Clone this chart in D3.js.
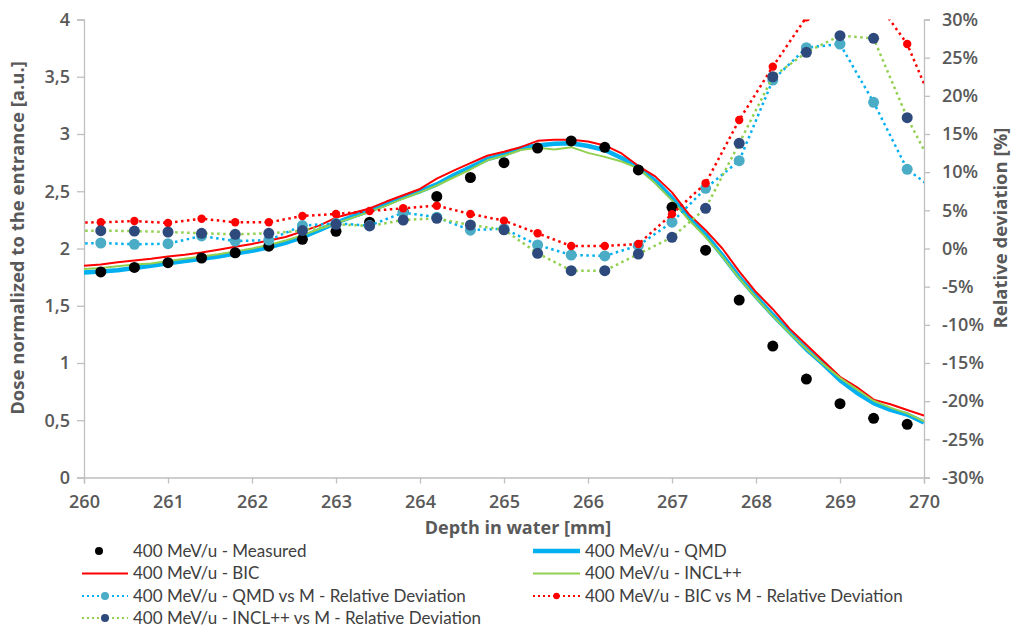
<!DOCTYPE html>
<html>
<head>
<meta charset="utf-8">
<script src="https://cdn.jsdelivr.net/npm/d3@7"></script>
<style>
  body { margin: 0; background: #fff; }
  svg { display: block; }
  .tick-label { font-family: "Open Sans", sans-serif; font-size: 18px; font-weight: 600; fill: #595959; }
  .axis-title { font-family: "Open Sans", sans-serif; font-size: 18.5px; font-weight: 700; fill: #595959; }
  .x-title { font-size: 18px; }
  .legend-text { font-family: Lato, sans-serif; font-size: 17px; fill: #404040; }
</style>
</head>
<body>
<div id="chart"></div>
<script>
// simulated dose curves, sampled every 0.2 mm
const simDepth = [
  260, 260.2, 260.4, 260.6, 260.8, 261, 261.2, 261.4, 261.6, 261.8,
  262, 262.2, 262.4, 262.6, 262.8, 263, 263.2, 263.4, 263.6, 263.8,
  264, 264.2, 264.4, 264.6, 264.8, 265, 265.2, 265.4, 265.6, 265.8,
  266, 266.2, 266.4, 266.6, 266.8, 267, 267.2, 267.4, 267.6, 267.8,
  268, 268.2, 268.4, 268.6, 268.8, 269, 269.2, 269.4, 269.6, 269.8, 270,
];
const qmdDose = [
  1.79, 1.8, 1.81, 1.83, 1.85, 1.87, 1.89, 1.91, 1.93, 1.955,
  1.98, 2.01, 2.05, 2.1, 2.16, 2.225, 2.28, 2.33, 2.39, 2.45,
  2.5, 2.56, 2.64, 2.71, 2.78, 2.82, 2.875, 2.9, 2.915, 2.92,
  2.895, 2.86, 2.79, 2.71, 2.59, 2.44, 2.27, 2.12, 1.94, 1.75,
  1.58, 1.42, 1.27, 1.12, 0.99, 0.85, 0.74, 0.65, 0.59, 0.55, 0.48,
];
const bicDose = [
  1.85, 1.86, 1.88, 1.895, 1.91, 1.93, 1.945, 1.965, 1.99, 2.015,
  2.04, 2.07, 2.1, 2.15, 2.2, 2.27, 2.31, 2.35, 2.41, 2.465,
  2.52, 2.61, 2.68, 2.745, 2.81, 2.845, 2.885, 2.94, 2.95, 2.95,
  2.935, 2.9, 2.83, 2.72, 2.63, 2.49, 2.3, 2.16, 2, 1.8,
  1.62, 1.47, 1.3, 1.16, 1.02, 0.88, 0.79, 0.68, 0.64, 0.59, 0.54,
];
const inclDose = [
  1.82, 1.83, 1.845, 1.86, 1.87, 1.89, 1.91, 1.93, 1.95, 1.975,
  2, 2.03, 2.07, 2.115, 2.17, 2.22, 2.27, 2.32, 2.375, 2.435,
  2.49, 2.55, 2.62, 2.69, 2.77, 2.81, 2.86, 2.88, 2.865, 2.885,
  2.835, 2.8, 2.76, 2.7, 2.57, 2.42, 2.25, 2.1, 1.93, 1.74,
  1.57, 1.41, 1.26, 1.12, 0.99, 0.87, 0.77, 0.67, 0.61, 0.56, 0.49,
];

// measured points
const measDepth = [
  260.2, 260.6, 261, 261.4, 261.8, 262.2, 262.6, 263, 263.4, 263.8,
  264.2, 264.6, 265, 265.4, 265.8, 266.2, 266.6, 267, 267.4, 267.8,
  268.2, 268.6, 269, 269.4, 269.8,
];
const measDose = [
  1.795, 1.835, 1.876, 1.917, 1.963, 2.02, 2.08, 2.15, 2.23, 2.32,
  2.455, 2.62, 2.75, 2.877, 2.939, 2.884, 2.686, 2.36, 1.985, 1.55,
  1.148, 0.86, 0.645, 0.517, 0.464,
];

// relative deviation vs measured [%] (secondary axis)
const devDepth = [
  259.8, 260.2, 260.6, 261, 261.4, 261.8, 262.2, 262.6, 263, 263.4,
  263.8, 264.2, 264.6, 265, 265.4, 265.8, 266.2, 266.6, 267, 267.4,
  267.8, 268.2, 268.6, 269, 269.4, 269.8, 270.2,
];
const qmdDev = [
  0.6, 0.72, 0.55, 0.63, 1.64, 0.98, 1.1, 3.0, 3.3, 3.0,
  4.7, 4.1, 2.4, 2.6, 0.46, -0.85, -0.98, 0.4, 3.45, 7.88,
  11.5, 22.07, 26.3, 26.79, 19.15, 10.37, 7.1,
];
const bicDev = [
  3.4, 3.43, 3.6, 3.34, 3.9, 3.43, 3.43, 4.26, 4.52, 4.91,
  5.27, 5.61, 4.52, 3.65, 1.99, 0.33, 0.33, 0.59, 4.5, 8.54,
  16.83, 23.82, 30.3, 34.5, 32.9, 26.79, 16.4,
];
const inclDev = [
  2.3, 2.33, 2.29, 2.16, 1.99, 1.86, 1.99, 2.35, 3.17, 2.95,
  3.73, 3.95, 3.08, 2.45, -0.63, -2.9, -2.9, -0.72, 1.47, 5.27,
  13.78, 22.5, 25.7, 27.88, 27.53, 17.14, 8.66,
];

const xTicks = d3.range(260, 271, 1);
const yLeftTicks = d3.range(0, 4.01, 0.5);
const yRightTicks = d3.range(-30, 31, 5);

const width = 1015, height = 630;
const plot = { left: 84, right: 924, top: 19.5, bottom: 477.5 };
const axisColor = "#bfbfbf";

const x = d3.scaleLinear().domain([260, 270]).range([plot.left, plot.right]);
const yL = d3.scaleLinear().domain([0, 4]).range([plot.bottom, plot.top]);
const yR = d3.scaleLinear().domain([-30, 30]).range([plot.bottom, plot.top]);

const fmtComma = (v) => String(v).replace(".", ",");

const svg = d3.select("#chart").append("svg")
  .attr("width", width).attr("height", height);

svg.append("defs").append("clipPath").attr("id", "plot-clip")
  .append("rect")
  .attr("x", plot.left).attr("y", plot.top)
  .attr("width", plot.right - plot.left).attr("height", plot.bottom - plot.top);

// axes
const gX = svg.append("g").attr("transform", `translate(0,${plot.bottom})`)
  .call(d3.axisBottom(x).tickValues(xTicks).tickSize(6).tickFormat(d3.format("d")));
const gYL = svg.append("g").attr("transform", `translate(${plot.left},0)`)
  .call(d3.axisLeft(yL).tickValues(yLeftTicks).tickSize(7).tickFormat(fmtComma));
const gYR = svg.append("g").attr("transform", `translate(${plot.right},0)`)
  .call(d3.axisRight(yR).tickValues(yRightTicks).tickSize(6).tickFormat((d) => d + "%"));

[gX, gYL, gYR].forEach((g) => {
  g.select(".domain").attr("stroke", axisColor).attr("stroke-width", 1.3);
  g.selectAll(".tick line").attr("stroke", axisColor).attr("stroke-width", 1.3);
  g.selectAll(".tick text").attr("class", "tick-label").attr("font-family", null).attr("font-size", null);
});
gX.selectAll(".tick text").attr("y", 30.5).attr("dy", null);
gYL.selectAll(".tick text").attr("x", -14);
gYR.selectAll(".tick text").attr("x", 18);

// axis titles
svg.append("text").attr("class", "axis-title x-title")
  .attr("x", 518).attr("y", 534).attr("text-anchor", "middle")
  .text("Depth in water [mm]");
svg.append("text").attr("class", "axis-title")
  .attr("transform", "translate(24,238) rotate(-90)").attr("text-anchor", "middle")
  .text("Dose normalized to the entrance [a.u.]");
svg.append("text").attr("class", "axis-title")
  .attr("transform", "translate(1007,228) rotate(-90)").attr("text-anchor", "middle")
  .text("Relative deviation [%]");

const gPlot = svg.append("g").attr("clip-path", "url(#plot-clip)");

const series = {
  qmd: { color: "#00b0f0", width: 4.5 },
  bic: { color: "#ff0000", width: 2 },
  incl: { color: "#92d050", width: 2 },
};

function drawCurve(values, style) {
  const line = d3.line().x((d, i) => x(simDepth[i])).y((d) => yL(d));
  gPlot.append("path")
    .attr("d", line(values))
    .attr("fill", "none")
    .attr("stroke", style.color)
    .attr("stroke-width", style.width)
    .attr("stroke-linejoin", "round");
}

drawCurve(qmdDose, series.qmd);
drawCurve(bicDose, series.bic);
drawCurve(inclDose, series.incl);

gPlot.append("g").selectAll("circle")
  .data(measDose)
  .join("circle")
  .attr("cx", (d, i) => x(measDepth[i]))
  .attr("cy", (d) => yL(d))
  .attr("r", 5.5)
  .attr("fill", "#000");

const devSeries = [
  { values: qmdDev, line: "#00b0f0", marker: "#4bacc6", r: 5.5 },
  { values: bicDev, line: "#ff0000", marker: "#ff0000", r: 4.2 },
  { values: inclDev, line: "#92d050", marker: "#2e4a7d", r: 5.5 },
];

devSeries.forEach((s) => {
  const line = d3.line().x((d, i) => x(devDepth[i])).y((d) => yR(d));
  gPlot.append("path")
    .attr("d", line(s.values))
    .attr("fill", "none")
    .attr("stroke", s.line)
    .attr("stroke-width", 2.5)
    .attr("stroke-dasharray", "2.5,3.5");
  gPlot.append("g").selectAll("circle")
    .data(s.values)
    .join("circle")
    .attr("cx", (d, i) => x(devDepth[i]))
    .attr("cy", (d) => yR(d))
    .attr("r", s.r)
    .attr("fill", s.marker);
});

// legend
const legendItems = [
  { label: "400 MeV/u - Measured", col: 0, row: 0, type: "dot", marker: "#000", r: 4, dotX: 99 },
  { label: "400 MeV/u - QMD", col: 1, row: 0, type: "line", color: "#00b0f0", w: 4.5 },
  { label: "400 MeV/u - BIC", col: 0, row: 1, type: "line", color: "#ff0000", w: 2 },
  { label: "400 MeV/u - INCL++", col: 1, row: 1, type: "line", color: "#92d050", w: 2 },
  { label: "400 MeV/u - QMD vs M - Relative Deviation", col: 0, row: 2, type: "dev", color: "#00b0f0", marker: "#4bacc6", r: 4 },
  { label: "400 MeV/u - BIC vs M - Relative Deviation", col: 1, row: 2, type: "dev", color: "#ff0000", marker: "#ff0000", r: 3.2 },
  { label: "400 MeV/u - INCL++ vs M - Relative Deviation", col: 0, row: 3, type: "dev", color: "#92d050", marker: "#2e4a7d", r: 4 },
];
const colX = [[82, 128], [533, 580]];
const rowY = [551, 573.5, 596, 618];

const gLegend = svg.append("g");
legendItems.forEach((d) => {
  const [x0, x1] = colX[d.col];
  const cy = rowY[d.row];
  const g = gLegend.append("g");
  if (d.type === "line" || d.type === "dev") {
    g.append("line")
      .attr("x1", x0).attr("x2", x1).attr("y1", cy).attr("y2", cy)
      .attr("stroke", d.color)
      .attr("stroke-width", d.type === "dev" ? 2 : d.w)
      .attr("stroke-dasharray", d.type === "dev" ? "2,3" : null);
  }
  if (d.type === "dot" || d.type === "dev") {
    g.append("circle").attr("cx", d.dotX || (x0 + x1) / 2).attr("cy", cy).attr("r", d.r).attr("fill", d.marker);
  }
  g.append("text").attr("class", "legend-text")
    .attr("x", x1 + 5).attr("y", cy).attr("dy", "0.35em")
    .text(d.label);
});
</script>
</body>
</html>
